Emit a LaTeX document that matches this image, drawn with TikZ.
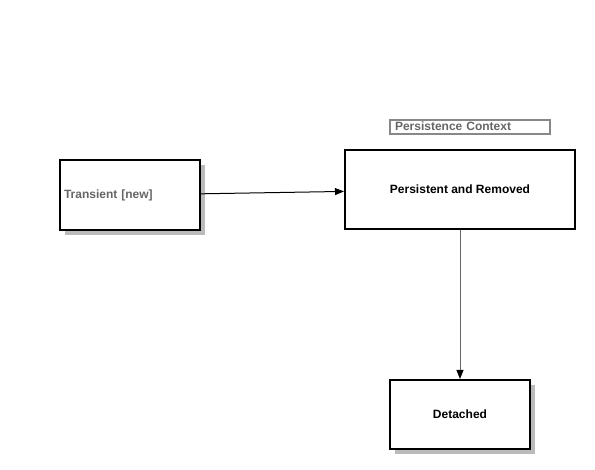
\documentclass[tikz,border=0pt]{standalone}
\usepackage{fontspec}
\setmainfont{Liberation Sans}
\usetikzlibrary{arrows.meta,shadows}
\definecolor{txtgray}{HTML}{666666}
\definecolor{linegray}{HTML}{888888}
\definecolor{shadowgray}{HTML}{BBBBBB}
\begin{document}
\begin{tikzpicture}[x=1pt,y=-1pt,
    state/.style={rectangle, draw, line width=2pt, fill=white,
        font=\fontsize{12}{14}\selectfont\bfseries},
    shadowed/.style={drop shadow={shadow xshift=5pt, shadow yshift=-5pt,
        fill=shadowgray, opacity=1}},
    flow/.style={-{Triangle[width=7pt,length=9pt,color=black]}, line width=1pt}]
    \useasboundingbox (0,0) rectangle (595,470);

    \node[state, shadowed, minimum width=140pt, minimum height=70pt,
        text width=132pt, inner xsep=4pt, align=left, text=txtgray]
        (tr) at (130,195) {Transient [new]};
    \node[state, minimum width=230pt, minimum height=79pt]
        (pr) at (460,189.5) {Persistent and Removed};
    \node[state, draw=linegray, text=txtgray, minimum width=160pt,
        text width=150pt, inner xsep=5pt, align=left, inner ysep=1.5pt,
        text height=9pt, text depth=2pt]
        (ctx) at (470,127) {Persistence Context};
    \node[state, shadowed, minimum width=140pt, minimum height=69pt]
        (de) at (460,414.5) {Detached};

    \path[draw, flow] (tr) -- (pr);
    \path[draw=txtgray, flow] (pr) -- (de);
\end{tikzpicture}
\end{document}
